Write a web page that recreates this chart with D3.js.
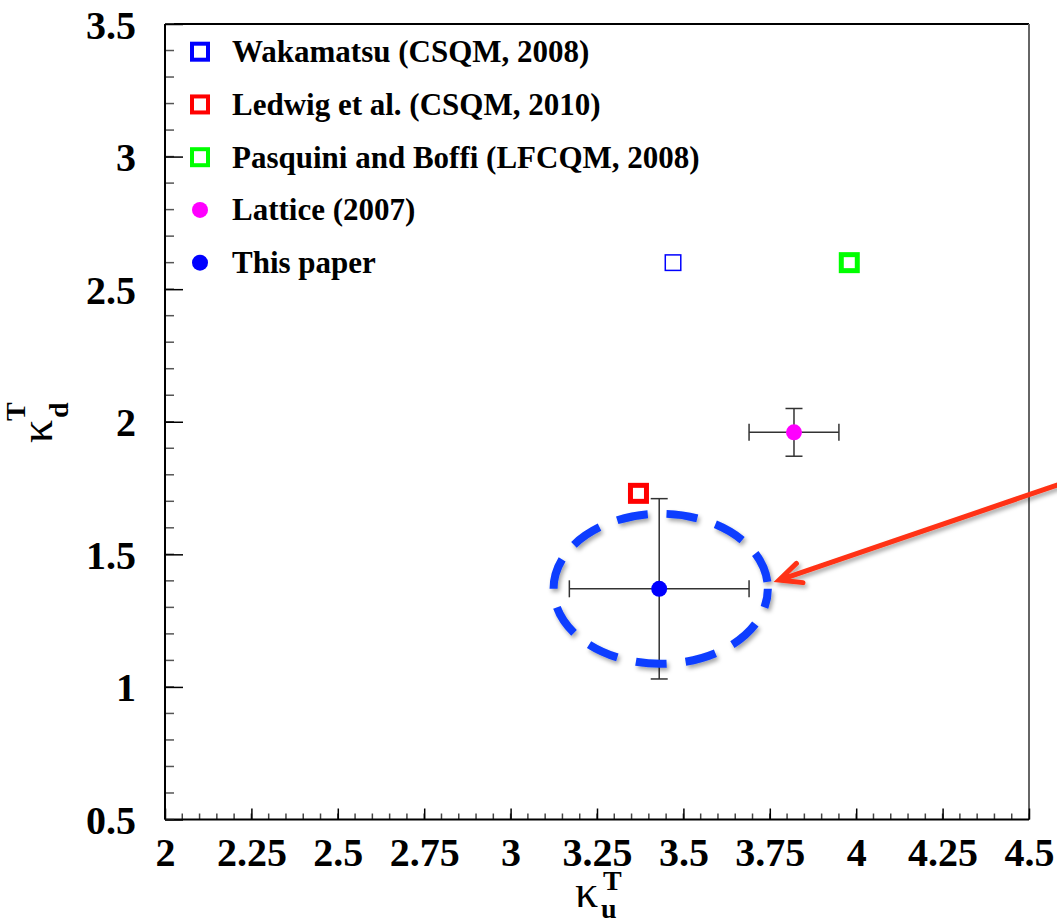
<!DOCTYPE html>
<html><head><meta charset="utf-8">
<script src="https://cdn.jsdelivr.net/npm/d3@7"></script>
<style>body{margin:0;background:#fff}svg{display:block}text{font-family:"Liberation Serif","Times New Roman",serif}</style>
</head><body>
<script>
// ---- data ----
const seriesNames = ["Wakamatsu (CSQM, 2008)", "Ledwig et al. (CSQM, 2010)", "Pasquini and Boffi (LFCQM, 2008)", "Lattice (2007)", "This paper"];
const seriesColors = ["#0000ff", "#ff0000", "#00ff00", "#ff00ff", "#0000ff"];
const seriesShapes = ["square", "square", "square", "circle", "circle"];
const kappaU = [3.47, 3.37, 3.98, 3.82, 3.43];
const kappaD = [2.60, 1.73, 2.60, 1.96, 1.37];
const errU = [0, 0, 0, 0.13, 0.26];
const errD = [0, 0, 0, 0.09, 0.34];
const xTicks = [2, 2.25, 2.5, 2.75, 3, 3.25, 3.5, 3.75, 4, 4.25, 4.5];
const yTicks = [0.5, 1, 1.5, 2, 2.5, 3, 3.5];
// annotation (data units)
const ellipseHalfWidths = [0.31, 0.283];
const arrowFrom = [4.581, 1.761];
const arrowTo = [3.777, 1.403];

const W = 1057, H = 922;
const mL = 165, mR = 1029, mT = 24, mB = 819.5;
const x = d3.scaleLinear().domain([2, 4.5]).range([mL, mR]);
const y = d3.scaleLinear().domain([0.5, 3.5]).range([mB, mT]);

const svg = d3.select("body").append("svg").attr("width", W).attr("height", H);
const defs = svg.append("defs");
const f = defs.append("filter").attr("id", "shadow").attr("x", "-20%").attr("y", "-20%").attr("width", "140%").attr("height", "140%");
f.append("feDropShadow").attr("dx", 2).attr("dy", 3).attr("stdDeviation", 2).attr("flood-color", "#000").attr("flood-opacity", 0.35);

// frame
svg.append("line").attr("x1", mL).attr("x2", mR).attr("y1", mT).attr("y2", mT).attr("stroke", "#000").attr("stroke-width", 2);
svg.append("line").attr("x1", mR).attr("x2", mR).attr("y1", mT).attr("y2", mB).attr("stroke", "#666").attr("stroke-width", 2);

// x axis
const xMinor = d3.range(0, 51).map(i => 2 + i * 0.05);
const xAx = svg.append("g").attr("transform", `translate(0,${mB})`);
xAx.selectAll("line.minor").data(xMinor).join("line").attr("class", "minor")
  .attr("x1", d => x(d)).attr("x2", d => x(d)).attr("y1", 0).attr("y2", -6).attr("stroke", "#444").attr("stroke-width", 1.5);
xAx.call(d3.axisBottom(x).tickValues(xTicks).tickSize(-11).tickFormat(d3.format("~g")).tickPadding(0));
xAx.select(".domain").attr("stroke", "#000").attr("stroke-width", 2).attr("d", `M${mL},0H${mR}`);
xAx.selectAll(".tick line").attr("stroke", "#000").attr("stroke-width", 1.5);
xAx.selectAll(".tick text").attr("font-size", 40).attr("font-weight", "bold").attr("fill", "#000")
  .attr("y", 46).attr("dy", 0).style("font-family", "'Liberation Serif', serif");

// y axis
const yMinor = d3.range(0, 31).map(i => 0.5 + i * 0.1);
const yAx = svg.append("g").attr("transform", `translate(${mL},0)`);
yAx.selectAll("line.minor").data(yMinor).join("line").attr("class", "minor")
  .attr("x1", 0).attr("x2", 9).attr("y1", d => y(d)).attr("y2", d => y(d)).attr("stroke", "#555").attr("stroke-width", 1.5);
yAx.call(d3.axisLeft(y).tickValues(yTicks).tickSize(-18).tickFormat(d3.format("~g")).tickPadding(0));
yAx.select(".domain").attr("stroke", "#000").attr("stroke-width", 2).attr("d", `M0,${mT}V${mB}`);
yAx.selectAll(".tick line").attr("stroke", "#000").attr("stroke-width", 1.5);
yAx.selectAll(".tick text").attr("font-size", 40).attr("font-weight", "bold").attr("fill", "#000")
  .attr("x", -29).attr("dy", 14).style("font-family", "'Liberation Serif', serif");

// axis titles
const xt = svg.append("g");
xt.append("text").attr("x", 575).attr("y", 907).attr("font-size", 46).text("κ");
xt.append("text").attr("x", 603).attr("y", 890).attr("font-size", 28).attr("font-weight", "bold").text("T");
xt.append("text").attr("x", 601).attr("y", 918).attr("font-size", 28).attr("font-weight", "bold").text("u");
const yt = svg.append("g").attr("transform", "translate(52,443) rotate(-90)");
yt.append("text").attr("x", 0).attr("y", 0).attr("font-size", 46).text("κ");
yt.append("text").attr("x", 22).attr("y", -27).attr("font-size", 28).attr("font-weight", "bold").text("T");
yt.append("text").attr("x", 25).attr("y", 16).attr("font-size", 28).attr("font-weight", "bold").text("d");

// data
const data = seriesNames.map((n, i) => ({ name: n, color: seriesColors[i], shape: seriesShapes[i], u: kappaU[i], d: kappaD[i], eu: errU[i], ed: errD[i], i }));
const ptSize = [17, 21, 21, 16, 16];
const ptStroke = [1.5, 5, 5, 0, 0];

const eg = svg.append("g");
data.filter(d => d.eu > 0 || d.ed > 0).forEach(d => {
  const g = eg.append("g").attr("stroke", "#333").attr("stroke-width", 1.5);
  g.append("line").attr("x1", x(d.u - d.eu)).attr("x2", x(d.u + d.eu)).attr("y1", y(d.d)).attr("y2", y(d.d));
  g.append("line").attr("x1", x(d.u)).attr("x2", x(d.u)).attr("y1", y(d.d - d.ed)).attr("y2", y(d.d + d.ed));
  [d.u - d.eu, d.u + d.eu].forEach(v => g.append("line").attr("x1", x(v)).attr("x2", x(v)).attr("y1", y(d.d) - 8.5).attr("y2", y(d.d) + 8.5));
  [d.d - d.ed, d.d + d.ed].forEach(v => g.append("line").attr("y1", y(v)).attr("y2", y(v)).attr("x1", x(d.u) - 8.5).attr("x2", x(d.u) + 8.5));
});

const pg = svg.append("g");
data.forEach(d => {
  const s = ptSize[d.i], sw = ptStroke[d.i];
  if (d.shape === "square") {
    pg.append("rect").attr("x", x(d.u) - s / 2 + sw / 2).attr("y", y(d.d) - s / 2 + sw / 2)
      .attr("width", s - sw).attr("height", s - sw).attr("fill", "none").attr("stroke", d.color).attr("stroke-width", sw);
  } else {
    pg.append("circle").attr("cx", x(d.u)).attr("cy", y(d.d)).attr("r", s / 2).attr("fill", d.color);
  }
});

// ellipse annotation around "This paper"
const tp = data[4];
svg.append("ellipse").attr("cx", x(tp.u) + 1.5).attr("cy", y(tp.d))
  .attr("rx", x(2 + ellipseHalfWidths[0]) - x(2)).attr("ry", y(0.5) - y(0.5 + ellipseHalfWidths[1]))
  .attr("fill", "none").attr("stroke", "#0a3cff").attr("stroke-width", 8)
  .attr("stroke-dasharray", "31 19").attr("stroke-dashoffset", 12).attr("filter", "url(#shadow)");

// arrow
const ax0 = x(arrowFrom[0]), ay0 = y(arrowFrom[1]), ax1 = x(arrowTo[0]), ay1 = y(arrowTo[1]);
const ang = Math.atan2(ay0 - ay1, ax0 - ax1);
const armL = 24, spread = 25 * Math.PI / 180;
const a1 = [ax1 + armL * Math.cos(ang - spread), ay1 + armL * Math.sin(ang - spread)];
const a2 = [ax1 + armL * Math.cos(ang + spread), ay1 + armL * Math.sin(ang + spread)];
svg.append("path").attr("d", `M${ax0},${ay0}L${ax1},${ay1}M${a1[0]},${a1[1]}L${ax1},${ay1}L${a2[0]},${a2[1]}`)
  .attr("fill", "none").attr("stroke", "#ff3314").attr("stroke-width", 5).attr("stroke-linecap", "round").attr("stroke-linejoin", "miter")
  .attr("filter", "url(#shadow)");

// legend
const lg = svg.append("g");
const legY = d3.scaleLinear().domain([0, 4]).range([51.7, 262.7]);
data.forEach(d => {
  const cy = legY(d.i);
  if (d.shape === "square") {
    lg.append("rect").attr("x", 200 - 8).attr("y", cy - 8).attr("width", 16).attr("height", 16)
      .attr("fill", "none").attr("stroke", d.color).attr("stroke-width", 4);
  } else {
    lg.append("circle").attr("cx", 200).attr("cy", cy).attr("r", 8).attr("fill", d.color);
  }
  lg.append("text").attr("x", 232).attr("y", cy + 10.5).attr("font-size", 31).attr("font-weight", "bold").text(d.name);
});
</script>
</body></html>
